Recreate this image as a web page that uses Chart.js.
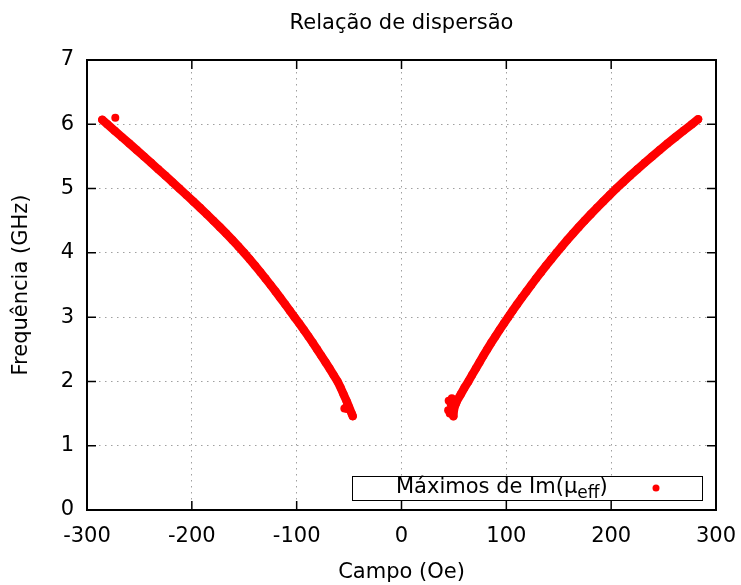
<!DOCTYPE html>
<html lang="pt">
<head>
<meta charset="UTF-8">
<title>Relação de dispersão</title>
<script src="https://cdn.jsdelivr.net/npm/chart.js"></script>
<style>
  html, body { margin: 0; padding: 0; background: #fff; }
  canvas { display: block; }
</style>
</head>
<body>
<canvas id="dispChart" width="741" height="585"></canvas>
<script>
// ramo de campo negativo (Oe, GHz)
const campoNeg = [-285.5, -280.6, -273.6, -266.6, -259.6, -252.6, -245.7, -238.8, -232.0, -225.2, -218.5,
  -211.8, -205.2, -198.6, -192.1, -185.7, -179.4, -173.2, -167.2, -161.3, -155.6, -150.1, -144.8, -139.6,
  -134.6, -129.7, -124.9, -120.2, -115.6, -111.0, -106.5, -102.0, -97.5, -93.1, -88.8, -84.6, -80.5,
  -76.5, -72.5, -68.6, -64.8, -61.0, -58.0, -55.3, -52.5, -50.0, -47.5, -46.5];
const freqNeg = [6.07, 6.0, 5.9, 5.8, 5.7, 5.6, 5.5, 5.4, 5.3, 5.2, 5.1,
  5.0, 4.9, 4.8, 4.7, 4.6, 4.5, 4.4, 4.3, 4.2, 4.1, 4.0, 3.9, 3.8,
  3.7, 3.6, 3.5, 3.4, 3.3, 3.2, 3.1, 3.0, 2.9, 2.8, 2.7, 2.6, 2.5,
  2.4, 2.3, 2.2, 2.1, 2.0, 1.9, 1.8, 1.7, 1.6, 1.5, 1.46];

// ramo de campo positivo
const campoPos = [49.5, 49.5, 50.5, 53.0, 56.5, 60.0, 63.8, 67.3, 70.9, 74.5, 78.1, 81.8, 85.6, 89.5,
  93.5, 97.6, 101.8, 106.0, 110.3, 114.7, 119.2, 123.8, 128.4, 133.1, 137.9, 142.8, 147.8, 152.9,
  158.1, 163.5, 169.0, 174.7, 180.5, 186.4, 192.4, 198.6, 204.9, 211.4, 218.1, 224.9, 231.9, 239.0,
  246.3, 253.7, 261.3, 269.0, 276.9, 283.0];
const freqPos = [1.46, 1.5, 1.6, 1.7, 1.8, 1.9, 2.0, 2.1, 2.2, 2.3, 2.4, 2.5, 2.6, 2.7,
  2.8, 2.9, 3.0, 3.1, 3.2, 3.3, 3.4, 3.5, 3.6, 3.7, 3.8, 3.9, 4.0, 4.1,
  4.2, 4.3, 4.4, 4.5, 4.6, 4.7, 4.8, 4.9, 5.0, 5.1, 5.2, 5.3, 5.4, 5.5,
  5.6, 5.7, 5.8, 5.9, 6.0, 6.08];

// máximos isolados
const campoSolto = [-273, -54.5, -53, -52, 45, 44.5, 46, 47, 52, 48];
const freqSolto = [6.10, 1.58, 1.60, 1.57, 1.70, 1.55, 1.50, 1.64, 1.66, 1.74];

const FONTE = 'DejaVu Sans';
const VERMELHO = '#ff0000';
const toXY = (xs, ys) => xs.map((x, i) => ({ x: x, y: ys[i] }));

const ramo = (xs, ys) => ({
  data: toXY(xs, ys),
  showLine: true,
  borderColor: VERMELHO,
  borderWidth: 8.5,
  borderCapStyle: 'round',
  borderJoinStyle: 'round',
  pointRadius: 4,
  pointBorderWidth: 0,
  pointBackgroundColor: VERMELHO
});

// título, moldura com marcas internas (estilo gnuplot) e caixa de legenda
const moldura = {
  id: 'moldura',
  beforeDatasetsDraw(chart) {
    const { ctx, chartArea: a, scales: { x, y } } = chart;
    const tl = 9;
    ctx.save();
    ctx.strokeStyle = '#000';
    ctx.lineWidth = 1.5;
    ctx.beginPath();
    x.ticks.forEach(t => {
      const px = x.getPixelForValue(t.value);
      ctx.moveTo(px, a.bottom); ctx.lineTo(px, a.bottom - tl);
      ctx.moveTo(px, a.top); ctx.lineTo(px, a.top + tl);
    });
    y.ticks.forEach(t => {
      const py = y.getPixelForValue(t.value);
      ctx.moveTo(a.left, py); ctx.lineTo(a.left + tl, py);
      ctx.moveTo(a.right, py); ctx.lineTo(a.right - tl, py);
    });
    ctx.stroke();
    ctx.lineWidth = 2;
    ctx.strokeRect(a.left, a.top, a.right - a.left, a.bottom - a.top);

    ctx.fillStyle = '#000';
    ctx.font = '21px "' + FONTE + '"';
    ctx.textAlign = 'center';
    ctx.textBaseline = 'middle';
    ctx.fillText('Relação de dispersão', (a.left + a.right) / 2, 24);
    ctx.restore();
  },
  afterDraw(chart) {
    const { ctx, chartArea: a } = chart;
    const w = 350, h = 24;
    const bx = a.right - 14 - w, by = a.bottom - 10 - h;
    ctx.save();
    ctx.fillStyle = '#fff';
    ctx.fillRect(bx, by, w, h);
    ctx.strokeStyle = '#000';
    ctx.lineWidth = 1;
    ctx.strokeRect(bx + 0.5, by + 0.5, w, h);

    const cy = by + h / 2;
    let tx = bx + 44;
    ctx.fillStyle = '#000';
    ctx.textBaseline = 'middle';
    ctx.textAlign = 'left';
    ctx.font = '21px "' + FONTE + '"';
    const t1 = 'Máximos de Im(μ';
    ctx.fillText(t1, tx, cy);
    tx += ctx.measureText(t1).width;
    ctx.font = '17px "' + FONTE + '"';
    ctx.fillText('eff', tx, cy + 6);
    tx += ctx.measureText('eff').width;
    ctx.font = '21px "' + FONTE + '"';
    ctx.fillText(')', tx, cy);

    ctx.fillStyle = VERMELHO;
    ctx.beginPath();
    ctx.arc(bx + 304, cy, 3.5, 0, Math.PI * 2);
    ctx.fill();
    ctx.restore();
  }
};

const semBorda = (lo, hi) => c =>
  (c.tick.value === lo || c.tick.value === hi) ? 'rgba(0,0,0,0)' : '#a0a0a0';

new Chart(document.getElementById('dispChart').getContext('2d'), {
  type: 'scatter',
  data: {
    datasets: [
      ramo(campoNeg, freqNeg),
      ramo(campoPos, freqPos),
      {
        data: toXY(campoSolto, freqSolto),
        showLine: false,
        pointRadius: 4,
        pointBorderWidth: 0,
        pointBackgroundColor: VERMELHO
      }
    ]
  },
  options: {
    responsive: false,
    animation: false,
    layout: { padding: { left: 0, right: 25, top: 60, bottom: 0 } },
    plugins: {
      legend: { display: false },
      tooltip: { enabled: false },
      title: { display: false }
    },
    scales: {
      x: {
        type: 'linear',
        min: -300, max: 300,
        afterFit: s => { s.height = 75; s.paddingLeft = 0; s.paddingRight = 0; },
        ticks: { stepSize: 100, color: '#000', font: { family: FONTE, size: 21 }, padding: 14 },
        grid: { color: semBorda(-300, 300), lineWidth: 1, drawTicks: false },
        border: { display: false, dash: [1.5, 4.5] },
        title: {
          display: true, text: 'Campo (Oe)', color: '#000',
          font: { family: FONTE, size: 21 }, padding: { top: 0, bottom: 0 }
        }
      },
      y: {
        min: 0, max: 7,
        afterFit: s => { s.width = 87; s.paddingTop = 0; s.paddingBottom = 0; },
        ticks: { stepSize: 1, color: '#000', font: { family: FONTE, size: 21 }, padding: 13 },
        grid: { color: semBorda(0, 7), lineWidth: 1, drawTicks: false },
        border: { display: false, dash: [1.5, 4.5] },
        title: {
          display: true, text: 'Frequência (GHz)', color: '#000',
          font: { family: FONTE, size: 21 }, padding: { top: 9.4, bottom: 0 }
        }
      }
    }
  },
  plugins: [moldura]
});
</script>
</body>
</html>
